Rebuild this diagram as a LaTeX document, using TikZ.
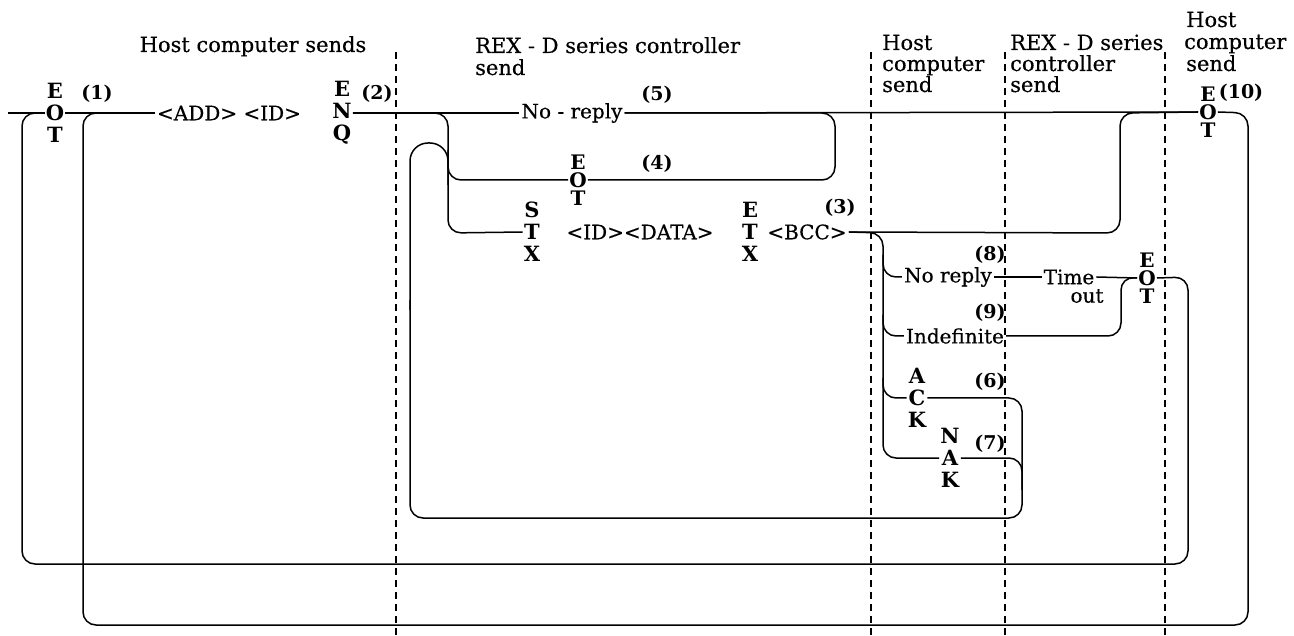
\documentclass[tikz,border=0pt]{standalone}
\usepackage{fontspec}
\setmainfont{DejaVu Serif}
\newfontfamily\rfont{DejaVu Serif}[FakeBold=0.4]
\begin{document}
\begin{tikzpicture}[x=1pt,y=-1pt,
  ln/.style={line width=1.5pt, rounded corners=13pt},
  sep/.style={line width=1.4pt, dash pattern=on 7pt off 5pt},
  ctl/.style={font=\fontsize{21}{22}\selectfont\bfseries, align=center, inner sep=1pt},
  ctlt/.style={font=\fontsize{20}{18}\selectfont\bfseries, align=center, inner sep=1pt},
  txt/.style={font=\rfont\fontsize{20}{22}\selectfont, inner sep=2pt},
  num/.style={font=\fontsize{19}{20}\selectfont\bfseries, inner sep=0pt},
  hd/.style={font=\rfont\fontsize{21}{22}\selectfont, inner sep=0pt, anchor=base west}]
\fill[white] (0,0) rectangle (1294,636);
\useasboundingbox (0,0) rectangle (1294,636);

% column separators
\draw[sep] (396,52) -- (396,636);
\draw[sep] (871,52) -- (871,636);
\draw[sep] (1005,52) -- (1005,636);
\draw[sep] (1165,52) -- (1165,636);

% headings
\node[hd, anchor=base] (h1) at (253,52) {Host computer sends};
\node[hd] (h2a) at (475,53) {REX - D series controller};
\node[hd] (h2b) at (475,75) {send};
\node[hd] (h3a) at (882,50) {Host};
\node[hd] (h3b) at (882,71) {computer};
\node[hd] (h3c) at (882,92) {send};
\node[hd] (h4a) at (1010,50) {REX - D series};
\node[hd] (h4b) at (1010,71) {controller};
\node[hd] (h4c) at (1010,92) {send};
\node[hd] (h5a) at (1186,27) {Host};
\node[hd] (h5b) at (1184,49) {computer};
\node[hd] (h5c) at (1186,71) {send};

% nodes
\coordinate (start) at (8,113);
\node[ctl] (eot1) at (55,113) {E\\O\\T};
\node[num] (n1) at (97,94) {(1)};
\node[txt] (addid) at (229,113) {<ADD> <ID>};
\node[ctl] (enq) at (342,113) {E\\N\\Q};
\node[num] (n2) at (377,94) {(2)};
\node[txt] (rep5) at (572,113) {No - reply};
\node[num] (n5) at (657,95) {(5)};
\node[ctlt] (eot4) at (578,180) {E\\O\\T};
\node[num] (n4) at (657,164) {(4)};
\node[ctl] (stx) at (532,232) {S\\T\\X};
\node[txt] (iddata) at (640,232) {<ID><DATA>};
\node[ctl] (etx) at (750,232) {E\\T\\X};
\node[txt] (bcc) at (807,232) {<BCC>};
\node[num] (n3) at (840,208) {(3)};
\node[txt] (rep8) at (948,277) {No reply};
\node[num] (n8) at (990,255) {(8)};
\node[txt] (time) at (1069,277) {Time};
\node[txt] (out) at (1087,296) {out};
\node[ctlt] (eotT) at (1147,278) {E\\O\\T};
\node[txt] (indef) at (955,336) {Indefinite};
\node[num] (n9) at (990,313) {(9)};
\node[ctl] (ack) at (917,398) {A\\C\\K};
\node[num] (n6) at (990,382) {(6)};
\node[ctl] (nak) at (950,458) {N\\A\\K};
\node[num] (n7) at (990,444) {(7)};
\node[ctlt] (eot10) at (1208,112) {E\\O\\T};
\node[num] (n10) at (1241,93) {(10)};

% main line
\draw[ln] (start) -- (eot1.west);
\draw[ln] (eot1.east) -- (addid.west);
\draw[ln] (enq.east) -- (rep5.west);
\draw[ln] (rep5.east) -- (eot10.west);

% outer loops
\draw[ln] (eotT.east) -- (1188,277) -- (1188,564) -- (22,564) -- (22,113) -- (eot1.west);
\draw[ln] (eot10.east) -- (1248,113) -- (1248,625) -- (83,625) -- (83,113) -- (addid.west);

% controller replies
\draw[ln] (enq.east) -- (448,113) -- (448,233) -- (stx.west);
\draw[ln] (448,150) -- (448,180) -- (eot4.west);
\draw[ln] (eot4.east) -- (835,180) -- (835,113) -- (rep5.east);
\draw[ln] (bcc.east) -- (1120,233) -- (1120,113) -- (eot10.west);

% host responses
\draw[ln] (bcc.east) -- (883,233) -- (883,458) -- (nak.west);
\draw[ln] (883,255) -- (883,277) -- (rep8.west);
\draw[ln] (883,315) -- (883,336) -- (indef.west);
\draw[ln] (883,378) -- (883,398) -- (ack.west);
\draw[ln] (rep8.east) -- (time.west);
\draw[ln] (time.east) -- (eotT.west);
\draw[ln] (indef.east) -- (1121,336) -- (1121,277) -- (eotT.west);

% ACK / NAK return loop
\draw[ln] (ack.east) -- (1022,398) -- (1022,518) -- (410,518) -- (410,300);
\draw[ln] (nak.east) -- (1022,458) -- (1022,490);
\draw[line width=1.5pt, rounded corners=18pt] (410,310) -- (410,143) -- (448,143) -- (448,185);
\end{tikzpicture}
\end{document}
